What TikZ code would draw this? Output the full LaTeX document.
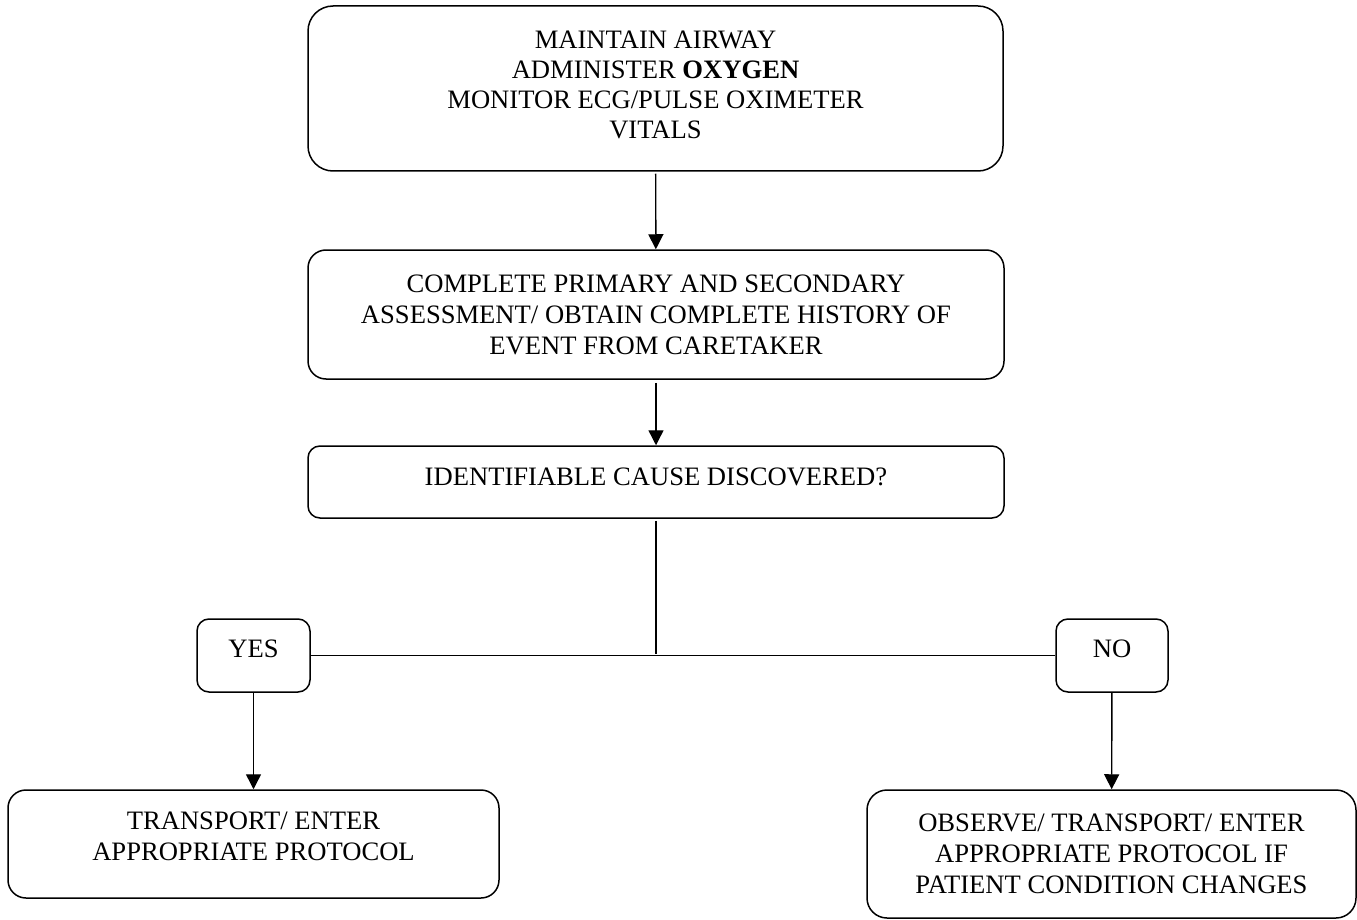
\documentclass[tikz,border=0pt]{standalone}
\usepackage{fontspec}
\setmainfont{Liberation Serif}
\usetikzlibrary{arrows.meta}

\tikzset{
  stepbox/.style={draw, line width=1.5pt, rounded corners=#1, align=center, inner sep=0pt},
  stepbox/.default=18pt,
  flow/.style={line width=1.4pt, -{Triangle[length=15pt,width=15pt]}},
  link/.style={line width=1.5pt}
}

\begin{document}
\begin{tikzpicture}[x=1pt, y=-1pt, font=\fontsize{26.6}{31}\selectfont]
  \useasboundingbox (0,0) rectangle (1357,920);
  % main column
  \node[stepbox=25pt, minimum width=695pt, minimum height=165pt, text depth=7pt,
        font=\fontsize{26.6}{30}\selectfont] (airway) at (655.5,88.5)
    {MAINTAIN AIRWAY\\ADMINISTER \textbf{OXYGEN}\\MONITOR ECG/PULSE OXIMETER\\VITALS};
  \node[stepbox, minimum width=696pt, minimum height=129pt] (assess) at (656,314.5)
    {COMPLETE PRIMARY AND SECONDARY\\ASSESSMENT/ OBTAIN COMPLETE HISTORY OF\\EVENT FROM CARETAKER};
  \node[stepbox=12pt, minimum width=696pt, minimum height=72pt, text depth=11pt] (cause) at (656,482)
    {IDENTIFIABLE CAUSE DISCOVERED?};
  \coordinate (split) at (656,654);
  % branches
  \node[stepbox=12pt, minimum width=113pt, minimum height=73pt, text depth=13pt] (yes) at (253.5,655.5) {YES};
  \node[stepbox=12pt, minimum width=112pt, minimum height=73pt, text depth=13pt] (no) at (1112,655.5) {NO};
  \node[stepbox, minimum width=491pt, minimum height=108pt, text depth=15pt] (transport) at (253.5,844)
    {TRANSPORT/ ENTER\\APPROPRIATE PROTOCOL};
  \node[stepbox=20pt, minimum width=489pt, minimum height=128pt] (observe) at (1111.5,854)
    {OBSERVE/ TRANSPORT/ ENTER\\APPROPRIATE PROTOCOL IF\\PATIENT CONDITION CHANGES};
  % connectors
  \foreach \from/\to/\gap in {airway/assess/2, assess/cause/3, yes/transport/0, no/observe/0}{%
    \draw[flow, shorten <=\gap pt] (\from) -- (\to);
  }
  \draw[link, line width=1.2pt, shorten <=2pt] (cause) -- (split);
  \draw[link] (yes) -- (no);
\end{tikzpicture}
\end{document}
